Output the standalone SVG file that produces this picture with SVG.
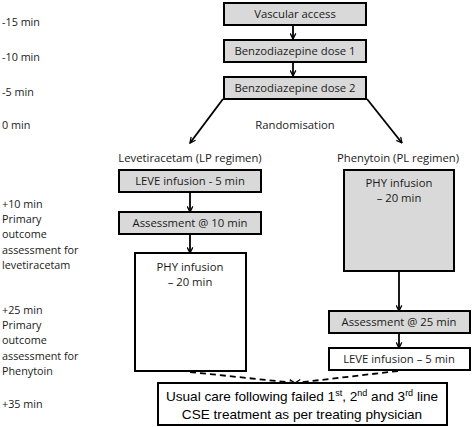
<svg xmlns="http://www.w3.org/2000/svg" width="472" height="427" viewBox="0 0 472 427">
<defs>
<marker id="ah" viewBox="0 0 10 10" refX="9" refY="5" markerWidth="7" markerHeight="7" markerUnits="userSpaceOnUse" orient="auto">
<path d="M1,1 L9,5 L1,9" fill="none" stroke="#000" stroke-width="1.8"/>
</marker>
<style>
.g{fill:#d9d9d9;stroke:#000;stroke-width:2}
.w{fill:#fff;stroke:#000;stroke-width:2}
text{font-family:"Open Sans","Liberation Sans",sans-serif;font-size:11.3px;fill:#1a1a1a}
.t{font-size:10.8px}
.c{text-anchor:middle}
.a{font-family:"Liberation Sans",Arial,sans-serif;font-size:13.6px;fill:#000}
.l{stroke:#000;stroke-width:1.8;fill:none;marker-end:url(#ah)}
.d{stroke:#000;stroke-width:1.8;fill:none;stroke-dasharray:6,4;marker-end:url(#ah)}
</style>
</defs>
<rect width="472" height="427" fill="#fff"/>
<g id="timeline" class="t">
<text class="t" x="2" y="26">-15 min</text>
<text class="t" x="2" y="61">-10 min</text>
<text class="t" x="2" y="96">-5 min</text>
<text class="t" x="2" y="129">0 min</text>
<text class="t" x="2" y="208">+10 min</text>
<text class="t" x="2" y="223">Primary</text>
<text class="t" x="2" y="238">outcome</text>
<text class="t" x="2" y="254">assessment for</text>
<text class="t" x="2" y="269">levetiracetam</text>
<text class="t" x="2" y="314">+25 min</text>
<text class="t" x="2" y="329">Primary</text>
<text class="t" x="2" y="344">outcome</text>
<text class="t" x="2" y="360">assessment for</text>
<text class="t" x="2" y="375">Phenytoin</text>
<text class="t" x="2" y="408">+35 min</text>
</g>
<g id="connectors">
<line class="l" x1="293" y1="25" x2="293" y2="39"/>
<line class="l" x1="293" y1="62" x2="293" y2="76"/>
<line class="l" x1="223" y1="99" x2="190" y2="143"/>
<line class="l" x1="367" y1="99" x2="402" y2="143"/>
<line class="l" x1="190" y1="192" x2="190" y2="212"/>
<line class="l" x1="190" y1="234" x2="190" y2="253"/>
<line class="l" x1="399" y1="271" x2="399" y2="311"/>
<line class="l" x1="399" y1="333" x2="399" y2="348"/>
<line class="d" x1="190" y1="372" x2="295" y2="383"/>
<line class="d" x1="398" y1="371" x2="295" y2="383"/>
</g>
<g id="vascular"><rect class="g" x="224" y="3" width="142" height="22"/><text class="c" x="295" y="18">Vascular access</text></g>
<g id="benzo1"><rect class="g" x="224" y="40" width="142" height="22"/><text class="c" x="295" y="55">Benzodiazepine dose 1</text></g>
<g id="benzo2"><rect class="g" x="224" y="77" width="142" height="22"/><text class="c" x="295" y="92">Benzodiazepine dose 2</text></g>
<g id="randomisation"><text class="c" x="295" y="129">Randomisation</text></g>
<g id="lp-label"><text class="c" x="190" y="162">Levetiracetam (LP regimen)</text></g>
<g id="pl-label"><text class="c" x="398" y="162">Phenytoin (PL regimen)</text></g>
<g id="leve-left"><rect class="g" x="119" y="170" width="142" height="22"/><text class="c" x="190" y="185">LEVE infusion - 5 min</text></g>
<g id="assess10"><rect class="g" x="119" y="212" width="142" height="22"/><text class="c" x="190" y="227">Assessment @ 10 min</text></g>
<g id="phy-left"><rect class="w" x="135" y="253" width="111" height="118"/><text class="c" x="190" y="271">PHY infusion</text><text class="c" x="190" y="286">– 20 min</text></g>
<g id="phy-right"><rect class="g" x="344" y="170" width="110" height="101"/><text class="c" x="399" y="187">PHY infusion</text><text class="c" x="399" y="202">– 20 min</text></g>
<g id="assess25"><rect class="g" x="329" y="311" width="141" height="22"/><text class="c" x="399" y="326">Assessment @ 25 min</text></g>
<g id="leve-right"><rect class="w" x="329" y="348" width="141" height="22"/><text class="c" x="399" y="363">LEVE infusion – 5 min</text></g>
<g id="usual-care"><rect class="w" x="158" y="383" width="289" height="42"/>
<text class="c a" x="302" y="401">Usual care following failed 1<tspan font-size="9" dy="-5">st</tspan><tspan dy="5">, 2</tspan><tspan font-size="9" dy="-5">nd</tspan><tspan dy="5"> and 3</tspan><tspan font-size="9" dy="-5">rd</tspan><tspan dy="5"> line</tspan></text>
<text class="c a" x="302" y="419">CSE treatment as per treating physician</text></g>
</svg>
